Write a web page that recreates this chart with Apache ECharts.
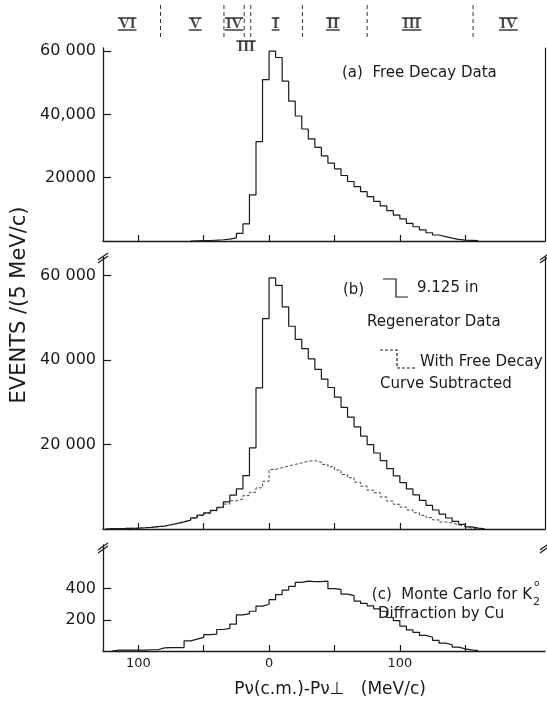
<!DOCTYPE html>
<html><head><meta charset="utf-8">
<script src="https://cdn.jsdelivr.net/npm/echarts@6/dist/echarts.min.js"></script>
<style>html,body{margin:0;padding:0;background:#fff}#c{width:547px;height:707px}</style>
</head><body><div id="c"></div>
<script>
// ---------- data ----------
const BIN = 5; // MeV/c per bin
// (a) free decay data, bins starting at -60
const freeDecayStart = -60;
const freeDecay = [50,100,150,250,400,600,1000,2400,5400,14600,31400,51000,
  60000,58000,50500,44200,39500,35400,32300,29600,26900,24600,22800,20700,18800,17200,
  15600,14000,12500,11100,9600,8200,7000,5600,4500,3500,2600,1900,1400,900,500,300,200,100];
// (b) regenerator data (solid), bins starting at -125
const regenStart = -125;
const regenerator = [80,100,130,170,220,300,400,550,700,1000,1350,1700,2100,2650,3300,3800,4400,5150,6400,8000,9500,12650,19200,33400,49800,
  59450,57700,52600,48000,44900,42700,40300,37800,35500,33500,31200,28800,26500,24200,22000,20000,18000,16200,14300,12600,11000,9500,8100,6800,5600,4500,3500,2600,1800,1100,500,200,50];
// (b) with free decay curve subtracted (dashed), bins starting at -125
const subtractedStart = -125;
const subtracted = [75,95,125,165,210,290,385,530,680,970,1300,1650,2050,2600,3200,3700,4300,5000,5900,6700,7100,7900,8700,9750,11300,
  14100,14500,14900,15300,15650,16050,16200,15800,15300,14750,13950,12900,12150,11100,10150,9200,8600,7600,6600,5850,5200,4500,3850,3250,2700,2150,1650,1450,1000,600,200,50];
// (c) Monte Carlo, bins starting at -120
const monteStart = -120;
const monteCarlo = [5,5,5,5,5,8,8,20,22,22,22,65,76,87,105,108,138,145,172,232,240,255,288,300,
  330,362,390,415,440,448,445,445,448,400,395,365,355,320,305,290,270,255,215,195,160,135,120,100,88,68,50,40,25,14,7,3];

// axis ticks / labels
const xTicks = [-100,-50,0,50,100,150];
const xLabels = [-100,0,100];
const yTicksA = [20000,40000,60000];
const yLabelsA = {20000:'20000',40000:'40,000',60000:'60 000'};
const yTicksB = [20000,40000,60000];
const yLabelsB = {20000:'20 000',40000:'40 000',60000:'60 000'};
const yTicksC = [200,400];
const yLabelsC = {200:'200',400:'400'};

// region markers along the top
const regionBounds = [-83,-34.5,-19,-14,25.5,75,156];
const regionNames = ['VI','V','IV','I','II','III','IV','III'];
const regionX = [-108.5,-56.5,-26.8,5,48.8,109,183,-17.6];
const regionY = [24,24,24,24,24,24,24,47];

// ---------- build ----------
function steps(start, vals){
  const d = [[start,0]];
  vals.forEach((v,i)=>d.push([start+i*BIN, v]));
  d.push([start+vals.length*BIN, 0]);
  return d;
}
const INK = '#1a1a1a';
const FONT = 'DejaVu Sans';
const ROMAN_FONT = 'bold 15px "Liberation Serif"';
const XMIN = -127, XMAX = 211;
const L = 103, R = 2;
const grids = [
  {left:L, right:R, top:48, height:193},
  {left:L, right:R, top:257, height:272},
  {left:L, right:R, top:545, height:106},
  {left:L, right:R, top:0, height:50}
];
function xAx(i, showLabel){
  return {type:'value', gridIndex:i, min:XMIN, max:XMAX,
    axisLine:{show:i<3, onZero:false, lineStyle:{color:INK,width:1.3}},
    axisTick:{show:i<3, inside:true, length:6, customValues:xTicks, lineStyle:{color:INK,width:1.2}},
    axisLabel:{show:showLabel, customValues:xLabels, formatter:v=>String(Math.abs(v)), color:INK,
      fontFamily:FONT, fontSize:13, margin:6},
    splitLine:{show:false}};
}
function yAx(i, max, ticks, labels){
  return {type:'value', gridIndex:i, min:0, max:max,
    axisLine:{show:true, onZero:false, lineStyle:{color:INK,width:1.3}},
    axisTick:{show:true, inside:true, length:8, customValues:ticks, lineStyle:{color:INK,width:1.2}},
    axisLabel:{show:true, customValues:ticks, formatter:v=>labels[v]||'', color:INK,
      fontFamily:FONT, fontSize:16, margin:7},
    splitLine:{show:false}};
}
function yRight(i, max){
  return {type:'value', gridIndex:i, min:0, max:max, position:'right',
    axisLine:{show:true, onZero:false, lineStyle:{color:INK,width:1.2}}, axisTick:{show:false},
    axisLabel:{show:false}, splitLine:{show:false}};
}
const yAxes = [
  yAx(0, 61000, yTicksA, yLabelsA),
  yAx(1, 64400, yTicksB, yLabelsB),
  yAx(2, 680, yTicksC, yLabelsC),
  {type:'value', gridIndex:3, min:0, max:50, inverse:true, show:false},
  yRight(0, 61000),
  yRight(1, 64400)
];
const histo = (data, xi, yi, dashed) => ({
  type:'line', xAxisIndex:xi, yAxisIndex:yi, step:'end', data:data, showSymbol:false, silent:true,
  animation:false, clip:false,
  lineStyle:{color: dashed ? '#444' : INK, width: dashed ? 1 : 1.2, type: dashed ? [3,2] : 'solid'}
});
const series = [
  histo(steps(freeDecayStart, freeDecay), 0, 0, false),
  histo(steps(subtractedStart, subtracted), 1, 1, true),
  histo(steps(regenStart, regenerator), 1, 1, false),
  histo(steps(monteStart, monteCarlo), 2, 2, false)
];
regionBounds.forEach(b => series.push({type:'line', xAxisIndex:3, yAxisIndex:3, data:[[b,5],[b,40]],
  showSymbol:false, silent:true, animation:false,
  lineStyle:{color:'#333', width:1, type:[4,3]}}));
series.push({type:'scatter', xAxisIndex:3, yAxisIndex:3, symbolSize:0, silent:true, animation:false,
  data: regionNames.map((n,i)=>({name:n, value:[regionX[i], regionY[i]]})),
  label:{show:true, position:'inside', formatter:p=>p.name, color:INK,
    fontFamily:'Liberation Serif', fontWeight:'bold', fontSize:15}});
// typewriter-style bars above and below each numeral
const mctx = document.createElement('canvas').getContext('2d');
mctx.font = ROMAN_FONT;
const barData = [];
regionNames.forEach((n,i)=>{
  const w = mctx.measureText(n).width + 2;
  barData.push({value:[regionX[i], regionY[i]-6], symbolSize:[w,1.6]});
  barData.push({value:[regionX[i], regionY[i]+6], symbolSize:[w,1.6]});
});
series.push({type:'scatter', xAxisIndex:3, yAxisIndex:3, symbol:'rect', silent:true, animation:false,
  itemStyle:{color:INK}, data:barData});

const chart = echarts.init(document.getElementById('c'), null, {renderer:'canvas'});
const txt = (text, x, y, size, align, extra) => Object.assign({type:'text', x:x, y:y, silent:true,
  style:Object.assign({text:text, font: size+'px "'+FONT+'"', fill:INK,
    align:align||'left', verticalAlign:'middle', textAlign:align||'left', textVerticalAlign:'middle'})}, extra||{});
const pl = (pts, dash) => ({type:'polyline', silent:true, shape:{points:pts},
  style:{stroke:INK, lineWidth:1.2, fill:null, lineDash: dash || null}});
// break marks
const brk = (x, y) => [
  pl([[x-5,y+4],[x+5,y-3]]), pl([[x-5,y+7],[x+5,y]])
];
const graphic = [
  txt('(a)  Free Decay Data', 342, 73, 15),
  txt('(b)', 343, 290, 15),
  pl([[383,279],[396,279],[396,297],[408,297]]),
  txt('9.125 in', 417, 288, 15),
  txt('Regenerator Data', 367, 322, 15),
  pl([[380,350],[397,350],[397,368],[415,368]], [3,2]),
  txt('With Free Decay', 420, 362, 15),
  txt('Curve Subtracted', 380, 384, 15),
  txt('(c)  Monte Carlo for K', 532, 595, 15, 'right'),
  txt('2', 533, 602, 11),
  txt('o', 534, 584, 9),
  txt('Diffraction by Cu', 378, 614, 15),
  txt('Pν(c.m.)-Pν⊥   (MeV/c)', 330, 690, 17, 'center'),
  txt('EVENTS /(5 MeV/c)', 20, 305, 21, 'center', {rotation: Math.PI/2})
].concat(brk(103,256), brk(545,256), brk(103,546), brk(545,546));

chart.setOption({
  animation:false,
  backgroundColor:'#fff',
  grid: grids,
  xAxis: [xAx(0,false), xAx(1,false), xAx(2,true), xAx(3,false)],
  yAxis: yAxes,
  series: series,
  graphic: graphic
});
</script></body></html>
